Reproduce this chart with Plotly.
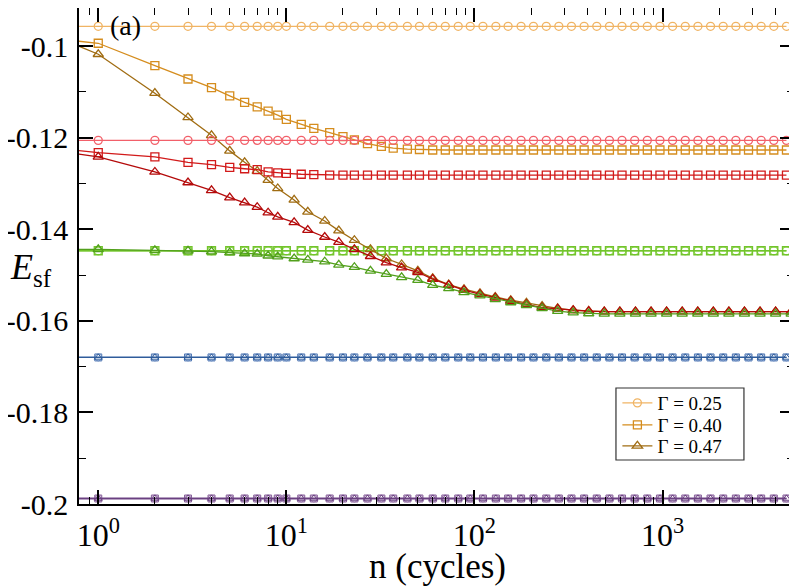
import numpy as np
import plotly.graph_objects as go

# sampling grids (n = cycles); 0.5 is an off-axis lead-in point (only its line stub shows)
n_sq = [0.5, 1, 2, 3, 4, 5, 6, 7, 8, 9, 10, 12, 14, 17, 20, 23, 27, 32, 37, 44, 51, 60, 70, 82,
        95, 111, 130, 151, 177, 206, 241, 281, 328, 383, 447, 522, 609, 711, 830, 969,
        1131, 1321, 1542, 1800, 2102, 2454, 2865, 3345, 3905, 4559]
n_tri = [0.5, 1, 2, 3, 4, 5, 6, 7, 8, 9, 11, 13, 16, 19, 23, 28, 34, 41, 50, 60, 73, 88, 107,
         129, 156, 189, 229, 277, 335, 405, 490, 593, 718, 869, 1051, 1272, 1539, 1862,
         2253, 2726, 3299, 3992, 4830]

# orange group
orange_circ = [-0.0957] * 50
orange_sq = [-0.0981, -0.0994, -0.1043, -0.1072, -0.1091, -0.1109, -0.1123, -0.1133, -0.1142,
             -0.1151, -0.1160, -0.1171, -0.1180, -0.1189, -0.1198, -0.1205, -0.1213, -0.1219,
             -0.1223, -0.1225, -0.1226] + [-0.1227] * 29
orange_tri = [-0.0967, -0.1018, -0.1103, -0.1156, -0.1195, -0.1229, -0.1254, -0.1273, -0.1293,
              -0.1311, -0.1336, -0.1362, -0.1382, -0.1403, -0.1424, -0.1444, -0.1464, -0.1477,
              -0.1491, -0.1507, -0.1521, -0.1531, -0.1540, -0.1548, -0.1555, -0.1561, -0.1568,
              -0.1573, -0.1577, -0.1579] + [-0.1580] * 13

# red group
red_circ = [-0.1206] * 50
red_sq = [-0.1220, -0.1233, -0.1242, -0.1254, -0.1259, -0.1265, -0.1268, -0.1270, -0.1275,
          -0.1277, -0.1278, -0.1280, -0.1281] + [-0.1282] * 37
red_tri = [-0.1224, -0.1242, -0.1275, -0.1298, -0.1315, -0.1331, -0.1342, -0.1352, -0.1364,
           -0.1373, -0.1385, -0.1402, -0.1417, -0.1428, -0.1444, -0.1459, -0.1473, -0.1484,
           -0.1494, -0.1509, -0.1522, -0.1533, -0.1542, -0.1550, -0.1557, -0.1564, -0.1571,
           -0.1574, -0.1577, -0.1579] + [-0.1580] * 13

# green group
green_circ = [-0.1447] * 50
green_sq = [-0.1447] * 50
green_tri = [-0.1444, -0.1444, -0.1446, -0.1447, -0.1449, -0.1451, -0.1453, -0.1454, -0.1458,
             -0.1460, -0.1464, -0.1467, -0.1471, -0.1478, -0.1483, -0.1491, -0.1498, -0.1505,
             -0.1511, -0.1522, -0.1529, -0.1538, -0.1545, -0.1553, -0.1560, -0.1566, -0.1573,
             -0.1579, -0.1582, -0.1584] + [-0.1585] * 13

# blue and purple groups (flat)
blue_val = [-0.1680] * 50
purple_val = [-0.1988] * 50

x_tickvals = [1, 10, 100, 1000]
x_ticktext = ['10<sup>0</sup>', '10<sup>1</sup>', '10<sup>2</sup>', '10<sup>3</sup>']
y_tickvals = [-0.2, -0.18, -0.16, -0.14, -0.12, -0.1]
y_ticktext = ['-0.2', '-0.18', '-0.16', '-0.14', '-0.12', '-0.1']
legend_names = ['\u0393 = 0.25', '\u0393 = 0.40', '\u0393 = 0.47']

FONT = 'Liberation Serif'

fig = go.Figure()


def add(x, y, color, symbol, size=8, lw=1.3, mlw=1.3, name=None, legend='legend'):
    fig.add_trace(go.Scatter(
        x=x, y=y, mode='lines+markers',
        line=dict(color=color, width=lw),
        marker=dict(symbol=symbol, size=size, color=color,
                    line=dict(color=color, width=mlw)),
        name=name, showlegend=name is not None, legend=legend,
    ))


# flat reference groups
for c, s in [('#A584B5', 'circle-open'), ('#87609A', 'square-open'), ('#6A4080', 'triangle-up-open')]:
    add(n_sq, purple_val, c, s, size=7, mlw=1.0)
for c, s in [('#7C9CCC', 'circle-open'), ('#5078B4', 'square-open'), ('#2F5C9A', 'triangle-up-open')]:
    add(n_sq, blue_val, c, s, size=7, mlw=1.0)
add(n_sq, green_circ, '#98DC5A', 'circle-open')
add(n_sq, green_sq, '#72C42C', 'square-open')

# orange group (one legend row each)
add(n_sq, orange_circ, '#F0B464', 'circle-open', name=legend_names[0], legend='legend')
add(n_sq, orange_sq, '#D58D1E', 'square-open', name=legend_names[1], legend='legend2')
add(n_tri, orange_tri, '#A06C12', 'triangle-up-open', size=9, name=legend_names[2], legend='legend3')

# red group
add(n_sq, red_circ, '#F2606A', 'circle-open')
add(n_sq, red_sq, '#D21A1A', 'square-open')
add(n_tri, red_tri, '#B40A0A', 'triangle-up-open', size=9)

# green triangles
add(n_tri, green_tri, '#52A01C', 'triangle-up-open', size=9)

minor_x = [0.9] + [m * 10 ** d for d in range(4) for m in range(2, 10) if m * 10 ** d <= 5000]
minor_y = [-0.19, -0.17, -0.15, -0.13, -0.11]

axis_common = dict(
    showline=True, linecolor='black', linewidth=1.5, mirror='ticks',
    ticks='inside', ticklen=14, tickwidth=1.5, tickcolor='black',
    showgrid=False, zeroline=False, automargin=False,
)

leg_common = dict(x=0.753, xanchor='left', yanchor='middle', bgcolor='rgba(0,0,0,0)',
                  borderwidth=0, font=dict(family=FONT, size=19, color='black'),
                  itemwidth=30)

# page draws the figure 8px in from the corner, so size and margins are trimmed by that
fig.update_layout(
    width=789, height=580,
    margin=dict(l=71, r=3, t=0, b=84),
    paper_bgcolor='white', plot_bgcolor='white',
    font=dict(family=FONT, color='black'),
    xaxis=dict(type='log', range=[np.log10(0.79), np.log10(5000)],
               tickmode='array', tickvals=x_tickvals, ticktext=x_ticktext,
               tickfont=dict(family=FONT, size=32, color='black'),
               ticklabelstandoff=2,
               minor=dict(tickmode='array', tickvals=minor_x, ticks='inside', ticklen=7,
                          tickwidth=1.2, tickcolor='black', showgrid=False),
               **axis_common),
    yaxis=dict(range=[-0.2, -0.0917],
               tickmode='array', tickvals=y_tickvals, ticktext=y_ticktext,
               tickfont=dict(family=FONT, size=30, color='black'),
               ticklabelstandoff=3,
               minor=dict(tickmode='array', tickvals=minor_y, ticks='inside', ticklen=7,
                          tickwidth=1.2, tickcolor='black', showgrid=False),
               **axis_common),
    legend=dict(y=0.2036, **leg_common),
    legend2=dict(y=0.1593, **leg_common),
    legend3=dict(y=0.1169, **leg_common),
    shapes=[dict(type='rect', xref='paper', yref='paper', x0=0.751, x1=0.930,
                 y0=0.0887, y1=0.2339, line=dict(color='#333', width=1.2),
                 fillcolor='white', layer='above')],
    annotations=[
        dict(text='(a)', xref='paper', yref='paper', x=0.0657, y=0.9657,
             xanchor='center', yanchor='middle', showarrow=False,
             font=dict(family=FONT, size=28, color='black')),
        dict(text='<i>E</i><sub>sf</sub>', xref='paper', yref='paper', x=-0.0993, y=0.4718,
             xanchor='left', yanchor='middle', showarrow=False,
             font=dict(family=FONT, size=36, color='black')),
        dict(text='n (cycles)', xref='paper', yref='paper', x=0.5007, y=-0.127,
             xanchor='center', yanchor='middle', showarrow=False,
             font=dict(family=FONT, size=35, color='black')),
    ],
)

fig.write_html('out.html')
